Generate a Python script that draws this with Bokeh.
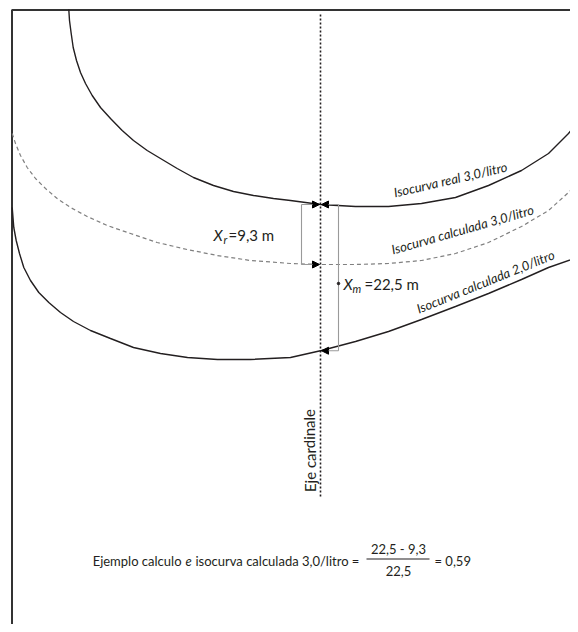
import numpy as np
from bokeh.plotting import figure
from bokeh.models import Range1d, Arrow, NormalHead, ColumnDataSource
from bokeh.core.properties import value
from bokeh.embed import file_html
from bokeh.resources import INLINE

# ---------------- data (picture-pixel coordinates) ----------------
real_30_x = [68.3, 69, 70.7, 72.7, 76, 80, 85, 91.7, 100, 110, 121.7, 133, 146.7, 160, 176.7, 193,
             213, 233, 253, 273, 290, 320, 355, 388, 421, 455, 488, 521, 548, 568, 580]
real_30_y = [9, 20, 33, 47, 60, 72, 83, 95, 107, 118, 130, 140, 150, 158, 168, 177,
             185, 191, 195, 198, 200, 204, 206, 206, 203, 197, 185, 170, 153, 133, 118]

calc_30_x = [11.7, 15, 20, 26.7, 35, 45, 56.7, 70, 86.7, 106.7, 130, 156.7, 186.7, 216.7, 250, 290,
             320, 355, 388, 421, 455, 488, 521, 548, 568, 580]
calc_30_y = [133, 143, 155, 167, 178, 188, 198, 207, 216, 225, 233, 242, 249, 255, 260, 263,
             264, 264, 263, 260, 253, 242, 226, 210, 192, 180]

calc_20_x = [11.7, 13.3, 15.7, 19, 23.3, 30, 38.3, 48.3, 60, 73, 90, 110, 133, 160, 187, 217, 250, 290,
             321, 355, 388, 421, 455, 488, 521, 548, 580]
calc_20_y = [207, 227, 240, 253, 267, 280, 292, 302, 312, 321, 330, 338, 347, 353, 357, 359, 359, 357,
             350, 341, 331, 319, 306, 293, 279, 267, 256]

curve_labels = ["Isocurva real 3,0/litro", "Isocurva calculada 3,0/litro", "Isocurva calculada 2,0/litro"]
eje_label = "Eje cardinale"
eje_x = 320
Xr_value = 9.3
Xm_value = 22.5
ratio_value = (Xm_value - Xr_value) / Xm_value


def es(v, nd=1):
    return f"{v:.{nd}f}".replace(".", ",")


# ---------------- figure ----------------
FONT = "Lato"
INK = "#231f20"

p = figure(width=570, height=624, x_range=Range1d(0, 570), y_range=Range1d(624, 0),
           output_backend="svg", toolbar_location=None,
           x_axis_location=None, y_axis_location=None, min_border=0)
p.grid.grid_line_color = None
p.outline_line_color = None
p.background_fill_color = "white"
p.border_fill_color = "white"

# frame (only its left and top edges fall inside the picture)
p.line([11.5, 11.5, 700], [700, 9.5, 9.5], line_color="#333333", line_width=2)

# curves
p.line(real_30_x, real_30_y, line_color=INK, line_width=1.4)
p.line(calc_30_x, calc_30_y, line_color="#808080", line_width=1.2, line_dash="4 3")
p.line(calc_20_x, calc_20_y, line_color=INK, line_width=1.4)

# eje cardinale
p.line([eje_x, eje_x], [14, 498], line_color=INK, line_width=1.6, line_dash="2 2")

# bracket positions at the axis
y_real = float(np.interp(eje_x, real_30_x, real_30_y))
y_c30 = float(np.interp(eje_x, calc_30_x, calc_30_y))
y_c20 = float(np.interp(eje_x, calc_20_x, calc_20_y))

BR = "#9a9a9a"
xr_bx = eje_x - 19
xm_bx = eje_x + 18
p.segment(x0=[xr_bx, xm_bx], y0=[y_real, y_real], x1=[xr_bx, xm_bx], y1=[y_c30, y_c20],
          line_color=BR, line_width=1.1)

for xs, ys, xe in [(xr_bx, y_real, eje_x - 1), (xr_bx, y_c30, eje_x - 1),
                   (xm_bx, y_real, eje_x + 1), (xm_bx, y_c20, eje_x + 1)]:
    p.add_layout(Arrow(end=NormalHead(size=7, fill_color="black", line_color="black", line_width=1),
                       x_start=xs, y_start=ys, x_end=xe, y_end=ys,
                       line_color=BR, line_width=1.1))

# small dot before X_m label
p.scatter([xm_bx], [283], size=2.5, color=INK)

# X_r label
p.text(x=[213], y=[234], text=["X"], text_font=value(FONT), text_font_style="italic",
       text_font_size="15px", text_color=INK, text_baseline="middle", text_align="left")
p.text(x=[223], y=[239], text=["r"], text_font=value(FONT), text_font_style="italic",
       text_font_size="11px", text_color=INK, text_baseline="middle", text_align="left")
p.text(x=[228], y=[234], text=["=" + es(Xr_value) + " m"], text_font=value(FONT),
       text_font_size="15px", text_color=INK, text_baseline="middle", text_align="left")

# X_m label
p.text(x=[343], y=[283], text=["X"], text_font=value(FONT), text_font_style="italic",
       text_font_size="15px", text_color=INK, text_baseline="middle", text_align="left")
p.text(x=[352], y=[288], text=["m"], text_font=value(FONT), text_font_style="italic",
       text_font_size="11px", text_color=INK, text_baseline="middle", text_align="left")
p.text(x=[364], y=[283], text=["=" + es(Xm_value) + " m"], text_font=value(FONT),
       text_font_size="15px", text_color=INK, text_baseline="middle", text_align="left")

# curve labels
lab_src = ColumnDataSource(dict(x=[450, 462, 485], y=[179, 229, 281], text=curve_labels,
                                angle=[13, 16, 22]))
p.text(x="x", y="y", text="text", angle="angle", angle_units="deg", source=lab_src,
       text_font=value(FONT), text_font_style="italic", text_font_size="13px",
       text_color=INK, text_align="center", text_baseline="middle")

# eje label
p.text(x=[309], y=[450], text=[eje_label], angle=[90], angle_units="deg",
       text_font=value(FONT), text_font_size="15px", text_color=INK,
       text_align="center", text_baseline="middle")

# formula
FS = "13px"
p.text(x=[181], y=[560], text=["Ejemplo calculo"], text_font=value(FONT),
       text_font_size=FS, text_color=INK, text_align="right", text_baseline="middle")
p.text(x=[188], y=[560], text=["e"], text_font=value(FONT), text_font_style="italic",
       text_font_size=FS, text_color=INK, text_align="center", text_baseline="middle")
p.text(x=[195], y=[560], text=["isocurva calculada 3,0/litro ="], text_font=value(FONT),
       text_font_size=FS, text_color=INK, text_align="left", text_baseline="middle")
p.text(x=[398], y=[548], text=[es(Xm_value) + " - " + es(Xr_value)], text_font=value(FONT),
       text_font_size=FS, text_color=INK, text_align="center", text_baseline="middle")
p.segment(x0=[366], y0=[558.5], x1=[429], y1=[558.5], line_color=INK, line_width=1.2)
p.text(x=[398], y=[570], text=[es(Xm_value)], text_font=value(FONT),
       text_font_size=FS, text_color=INK, text_align="center", text_baseline="middle")
p.text(x=[434], y=[560], text=["= " + es(ratio_value, 2)], text_font=value(FONT),
       text_font_size=FS, text_color=INK, text_align="left", text_baseline="middle")

open("out.html", "w").write(file_html(p, INLINE))
